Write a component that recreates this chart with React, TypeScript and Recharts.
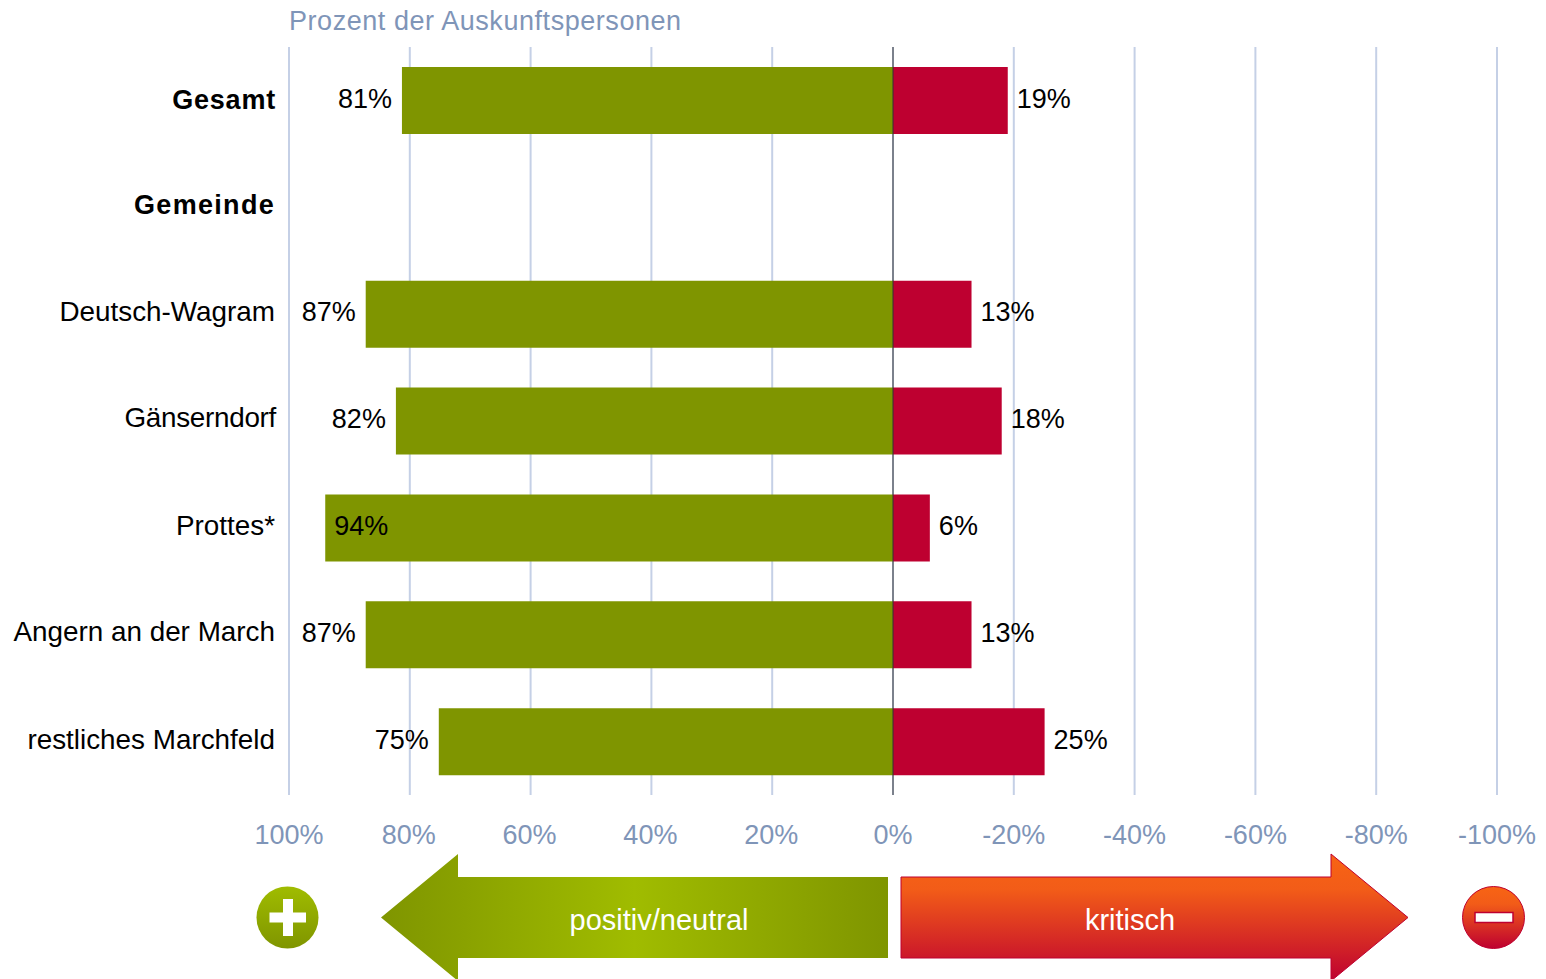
import React from "react";
import { ComposedChart, Bar, XAxis, YAxis, CartesianGrid, ReferenceLine, LabelList } from "recharts";

const categories = ["Gesamt", "Gemeinde", "Deutsch-Wagram", "Gänserndorf", "Prottes*", "Angern an der March", "restliches Marchfeld"];
const positiv: (number | null)[] = [81.3, null, 87.3, 82.3, 94, 87.3, 75.2];
const kritisch: (number | null)[] = [-19, null, -13, -18, -6.1, -13, -25.1];
const boldCategories = ["Gesamt", "Gemeinde"];
const xTicks = [100, 80, 60, 40, 20, 0, -20, -40, -60, -80, -100];

const data = categories.map((name, i) => ({ name, positiv: positiv[i], kritisch: kritisch[i] }));

const FONT = "'Liberation Sans', Arial, sans-serif";
const AXIS_BLUE = "#7F95B8";
const GRID = "#C5D0E6";
const GREEN = "#7F9500";
const RED = "#BE0030";
const CATEGORY_NUDGE: Record<string, [number, number]> = {
  Gesamt: [-2, 9],
  Gemeinde: [-3, 7],
  "Deutsch-Wagram": [-3, 7],
  "Gänserndorf": [-2, 6],
  "Prottes*": [-3, 7],
  "Angern an der March": [-3, 6],
  "restliches Marchfeld": [-3, 7],
};

function CategoryTick({ x, y, payload }: any) {
  const bold = boldCategories.includes(payload.value);
  const [dx, dy] = CATEGORY_NUDGE[payload.value] ?? [0, 0];
  const spacing = payload.value === "Gemeinde" ? 1.3 : bold ? 0.8 : payload.value === "Gänserndorf" ? -0.3 : 0;
  return (
    <text x={x + dx} y={y + dy} textAnchor="end" fontFamily={FONT} fontSize={bold ? 27 : 27.85} fontWeight={bold ? 700 : 400} letterSpacing={spacing} fill="#000">
      {payload.value}
    </text>
  );
}

function ValueTick({ x, y, payload }: any) {
  const v = payload.value;
  return (
    <text x={v > 0 && v < 100 ? x - 1 : x} y={y + 43} textAnchor="middle" fontFamily={FONT} fontSize={27} fill={AXIS_BLUE}>
      {v}%
    </text>
  );
}

function PositivLabel({ x, y, width, height, value }: any) {
  if (value == null) return null;
  const left = Math.min(x, x + width);
  const inside = value > 90;
  return (
    <text x={inside ? left + 9 : left - 10} y={y + height / 2 + 7} textAnchor={inside ? "start" : "end"} fontFamily={FONT} fontSize={27} fill="#000">
      {Math.round(value)}%
    </text>
  );
}

function KritischLabel({ x, y, width, height, value }: any) {
  if (value == null) return null;
  const right = Math.max(x, x + width);
  return (
    <text x={right + 9} y={y + height / 2 + 7} textAnchor="start" fontFamily={FONT} fontSize={27} fill="#000">
      {Math.round(Math.abs(value))}%
    </text>
  );
}

export default function App() {
  return (
    <div style={{ position: "absolute", left: 0, top: 0, width: 1546, height: 979, overflow: "hidden", background: "#fff" }}>
      <ComposedChart
        width={1546}
        height={979}
        data={data}
        layout="vertical"
        stackOffset="sign"
        margin={{ top: 47, right: 49, bottom: 124, left: 0 }}
        barCategoryGap={0}
      >
        <CartesianGrid horizontal={false} vertical stroke={GRID} strokeWidth={2} />
        <XAxis
          type="number"
          domain={[-100, 100]}
          reversed
          ticks={xTicks}
          interval={0}
          height={60}
          axisLine={false}
          tickLine={false}
          tickMargin={0}
          tick={<ValueTick />}
        />
        <YAxis
          type="category"
          dataKey="name"
          width={289}
          interval={0}
          axisLine={false}
          tickLine={false}
          tick={<CategoryTick />}
          tickMargin={5}
        />
        <Bar dataKey="positiv" stackId="a" fill={GREEN} barSize={67} isAnimationActive={false}>
          <LabelList dataKey="positiv" content={<PositivLabel />} />
        </Bar>
        <Bar dataKey="kritisch" stackId="a" fill={RED} barSize={67} isAnimationActive={false}>
          <LabelList dataKey="kritisch" content={<KritischLabel />} />
        </Bar>
        <ReferenceLine x={0} stroke="#333333" strokeWidth={1} />
      </ComposedChart>

      <svg width={1546} height={979} style={{ position: "absolute", left: 0, top: 0, pointerEvents: "none" }}>
        <defs>
          <linearGradient id="gArrow" x1="0" x2="1" y1="0" y2="0">
            <stop offset="0" stopColor="#7F9500" />
            <stop offset="0.5" stopColor="#A0BC00" />
            <stop offset="1" stopColor="#7F9500" />
          </linearGradient>
          <linearGradient id="rGrad" x1="0" x2="0" y1="0" y2="1">
            <stop offset="0" stopColor="#F86414" />
            <stop offset="0.28" stopColor="#F25C18" />
            <stop offset="1" stopColor="#BE0030" />
          </linearGradient>
          <linearGradient id="gCircle" x1="0" x2="0" y1="0" y2="1">
            <stop offset="0" stopColor="#A0BC00" />
            <stop offset="1" stopColor="#7F9500" />
          </linearGradient>
        </defs>
        <text x={289} y={30} fontFamily={FONT} fontSize={27} letterSpacing={0.55} fill={AXIS_BLUE}>
          Prozent der Auskunftspersonen
        </text>
        <path d="M381 917.5 L458 854 V877 H888 V958 H458 V981 Z" fill="url(#gArrow)" />
        <text x={659} y={930} textAnchor="middle" fontFamily={FONT} fontSize={29} fill="#fff">positiv/neutral</text>
        <path d="M901 877 H1331 V854 L1408 917.5 L1331 981 V958 H901 Z" fill="url(#rGrad)" stroke={RED} strokeWidth={1} />
        <text x={1130} y={930} textAnchor="middle" fontFamily={FONT} fontSize={29} fill="#fff">kritisch</text>
        <circle cx={287.5} cy={917.5} r={31} fill="url(#gCircle)" />
        <path d="M283 899 H293 V912.5 H306 V922.5 H293 V936 H283 V922.5 H269.5 V912.5 H283 Z" fill="#fff" />
        <circle cx={1493.5} cy={917.5} r={31} fill="url(#rGrad)" stroke={RED} strokeWidth={1} />
        <rect x={1475} y={912.5} width={38} height={10} fill="#fff" stroke={RED} strokeWidth={1.5} />
      </svg>
    </div>
  );
}
